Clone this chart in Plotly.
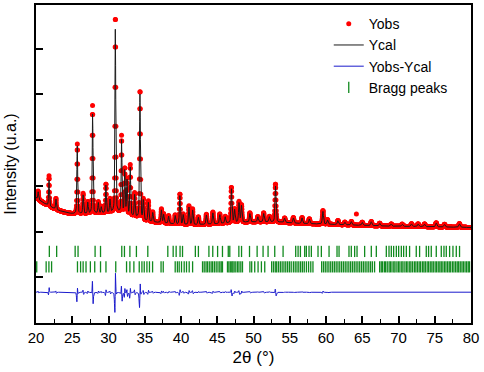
import numpy as np
import plotly.graph_objects as go

# ---------------- data ----------------
scan_start, scan_end, scan_step = 20.0, 80.0, 0.02

bg_2theta = [20, 21, 22, 23, 24, 25, 27, 29, 30, 31, 32, 33, 34, 35, 36, 38, 40, 42, 44,
             46, 48, 50, 52, 54, 56, 58, 60, 64, 68, 72, 76, 80]
bg_counts = [1740, 1630, 1540, 1470, 1420, 1390, 1390, 1400, 1410, 1420, 1400, 1340, 1300,
             1240, 1210, 1180, 1150, 1150, 1160, 1180, 1200, 1210, 1210, 1200, 1180, 1170,
             1160, 1140, 1120, 1110, 1100, 1090]

peak_2theta = [20.30, 21.80, 22.75, 25.70, 26.50, 27.15, 27.80, 28.60, 29.00, 29.65, 30.20,
               30.95, 31.80, 32.25, 32.55, 33.00, 33.60, 34.35, 34.80, 35.50, 36.10, 37.30,
               37.60, 38.30, 39.20, 39.85, 40.30, 41.10, 41.60, 42.40, 43.50, 44.40, 45.35,
               46.10, 46.95, 47.40, 48.00, 48.35, 49.50, 50.60, 51.40, 52.20, 53.03, 54.30,
               55.50, 56.70, 57.70, 59.58, 60.20, 61.65, 62.60, 63.50, 65.00, 66.25, 67.40,
               69.00, 70.50, 71.80, 72.70, 73.60, 75.20, 76.35, 78.40]
peak_obs = [180, 660, 240, 1525, 440, 260, 2360, 250, 150, 635, 300,
            4300, 1680, 990, 780, 1110, 520, 2820, 450, 440, 220, 300,
            200, 170, 200, 670, 230, 410, 345, 170, 220, 260, 210,
            150, 780, 300, 450, 380, 200, 120, 200, 120, 840, 100,
            120, 130, 110, 300, 100, 90, 60, 80, 70, 90, 60,
            50, 50, 60, 60, 60, 90, 60, 80]
peak_calc = [165, 580, 220, 1500, 410, 240, 2200, 230, 135, 600, 280,
             4000, 1600, 930, 740, 1060, 480, 2720, 420, 410, 205, 280,
             185, 160, 185, 630, 215, 385, 320, 160, 205, 245, 195,
             140, 740, 280, 425, 360, 185, 112, 185, 112, 790, 94,
             112, 122, 103, 280, 94, 85, 56, 75, 65, 85, 56,
             47, 47, 56, 56, 56, 85, 56, 75]

outlier_2theta = [64.19]
outlier_counts = [1385]

diff_offset = -326
bragg_row1_level = 565
bragg_row2_level = 228

bragg_phase1 = [21.84, 22.85, 25.40, 25.80, 28.15, 28.90, 31.83, 32.20, 32.95, 33.85, 35.42,
                38.18, 38.92, 39.33, 39.87, 40.21, 41.98, 42.40, 43.85, 44.38, 45.05, 45.72,
                46.52, 46.73, 47.98, 48.35, 49.45, 50.50, 51.32, 52.01, 52.93, 54.08, 55.82,
                56.15, 56.47, 57.06, 57.29, 57.66, 57.98, 58.90, 59.36, 60.42, 61.52, 61.80,
                63.17, 63.49, 63.95, 64.28, 65.33, 66.25, 66.94, 68.32, 68.69, 69.01, 69.33,
                69.70, 70.02, 70.39, 70.71, 71.08, 71.53, 72.45, 72.91, 73.83, 74.15, 74.52,
                75.21, 75.90, 76.27, 76.59, 77.05, 77.51, 77.97, 78.42]
bragg_phase2 = [20.10, 21.40, 21.78, 22.15, 25.72, 26.15, 26.50, 26.90, 27.50, 28.10, 28.90,
                29.65, 31.00, 32.49, 32.95, 33.50, 34.24, 34.61, 34.93, 35.30, 35.65, 36.08,
                37.25, 37.55, 39.20, 39.50, 39.75, 40.07, 40.44, 40.76, 41.13, 41.60, 42.97,
                43.20, 43.45, 43.65, 43.90, 44.15, 44.35, 44.60, 44.85, 45.10, 45.35, 45.55,
                45.72, 46.41, 46.60, 46.80, 47.00, 47.15, 47.33, 47.56, 47.80, 48.00, 48.25,
                48.48, 49.50, 49.75, 50.17, 50.63, 51.09, 51.55, 52.50, 52.75, 53.00, 53.20,
                53.45, 53.70, 53.95, 54.20, 54.45, 54.70, 54.95, 55.20, 55.50, 55.75, 56.00,
                56.25, 56.50, 56.75, 57.00, 57.30, 57.60, 57.90, 58.20, 59.40, 59.65, 59.90,
                60.15, 60.40, 60.65, 60.90, 61.15, 61.40, 61.65, 61.90, 62.15, 62.40, 62.65,
                62.90, 63.15, 63.40, 63.65, 63.90, 64.15, 64.40, 64.65, 64.90, 65.15, 65.40,
                65.65, 65.90, 66.15, 66.40, 66.70, 67.40, 67.62, 67.80, 68.05, 68.22, 68.45,
                68.70, 68.88, 69.10, 69.35, 69.52, 69.78, 70.00, 70.20, 70.45, 70.62, 70.88,
                71.10, 71.30, 71.55, 71.72, 71.95, 72.20, 72.40, 72.62, 72.85, 73.05, 73.30,
                73.50, 73.70, 73.95, 74.15, 74.38, 74.60, 74.80, 75.05, 75.25, 75.48, 75.70,
                75.90, 76.12, 76.35, 76.55, 76.78, 77.00, 77.20, 77.45, 77.65, 77.88, 78.10,
                78.30, 78.52, 78.75, 78.95, 79.18, 79.40, 79.62, 79.80]

x_ticks = [20, 25, 30, 35, 40, 45, 50, 55, 60, 65, 70, 75, 80]

# ---------------- profile (pseudo-Voigt peaks on background) ----------------
tt = np.arange(scan_start, scan_end + scan_step / 2, scan_step)
bg = np.interp(tt, bg_2theta, bg_counts)


def pv(x, c, fwhm, eta=0.4):
    g = np.exp(-4 * np.log(2) * ((x - c) / fwhm) ** 2)
    l = 1 / (1 + 4 * ((x - c) / fwhm) ** 2)
    return eta * l + (1 - eta) * g


y_obs = bg.copy()
y_cal = bg.copy()
for i, (p, ho, hc) in enumerate(zip(peak_2theta, peak_obs, peak_calc)):
    w = 0.11 + 0.0015 * (p - 20)
    shift = 0.008 if i % 2 == 0 else -0.008
    y_obs += ho * pv(tt, p, w)
    y_cal += hc * pv(tt, p + shift, w * 1.12)
y_diff = y_obs - y_cal + diff_offset

x_obs = np.concatenate([tt, outlier_2theta])
y_obs_all = np.concatenate([y_obs, outlier_counts])

# ---------------- figure ----------------
font = "Liberation Sans, Arial, sans-serif"
green = "#118a1e"
fig = go.Figure()
fig.add_trace(go.Scatter(x=x_obs, y=y_obs_all, mode="markers", name="Yobs",
                         marker=dict(color="#ff0000", size=5, line=dict(width=0))))
fig.add_trace(go.Scatter(x=tt, y=y_cal, mode="lines", name="Ycal",
                         line=dict(color="#1a1a1a", width=1)))
fig.add_trace(go.Scatter(x=tt, y=y_diff, mode="lines", name="Yobs-Ycal",
                         line=dict(color="#1a1acc", width=1)))
fig.add_trace(go.Scatter(x=bragg_phase1, y=[bragg_row1_level] * len(bragg_phase1),
                         mode="markers", name="Bragg peaks",
                         marker=dict(symbol="line-ns", size=8, color=green,
                                     line=dict(color=green, width=1.3))))
fig.add_trace(go.Scatter(x=bragg_phase2, y=[bragg_row2_level] * len(bragg_phase2),
                         mode="markers", name="Bragg peaks", showlegend=False,
                         marker=dict(symbol="line-ns", size=8, color=green,
                                     line=dict(color=green, width=1.3))))

fig.update_layout(
    width=484, height=372,
    margin=dict(l=36, r=13, t=3, b=49),
    paper_bgcolor="white", plot_bgcolor="white",
    font=dict(family=font, size=15, color="black"),
    showlegend=True,
    legend=dict(x=0.673, y=0.99, xanchor="left", yanchor="top",
                bgcolor="rgba(0,0,0,0)", font=dict(size=14), tracegroupgap=0,
                itemwidth=30),
    xaxis=dict(range=[20, 80], tickvals=x_ticks, ticks="inside", ticklen=7,
               tickwidth=1.5, tickcolor="black",
               minor=dict(ticks="inside", ticklen=4, dtick=2.5, tick0=20,
                          tickcolor="black", tickwidth=1.2),
               showline=True, linewidth=1.5, linecolor="black", mirror=True,
               showgrid=False, zeroline=False,
               tickfont=dict(size=15),
               title=dict(text="2θ (°)", font=dict(size=17), standoff=6)),
    yaxis=dict(range=[-1000, 5957], tick0=0, dtick=1000, ticks="inside", ticklen=7,
               tickwidth=1.5, tickcolor="black", showticklabels=False,
               showline=True, linewidth=1.5, linecolor="black", mirror=True,
               showgrid=False, zeroline=False,
               title=dict(text="Intensity (u.a.)", font=dict(size=16), standoff=14)),
)

fig.write_html("out.html", config={"displayModeBar": False},
               post_script="document.body.style.margin='0';document.body.style.padding='0';")
